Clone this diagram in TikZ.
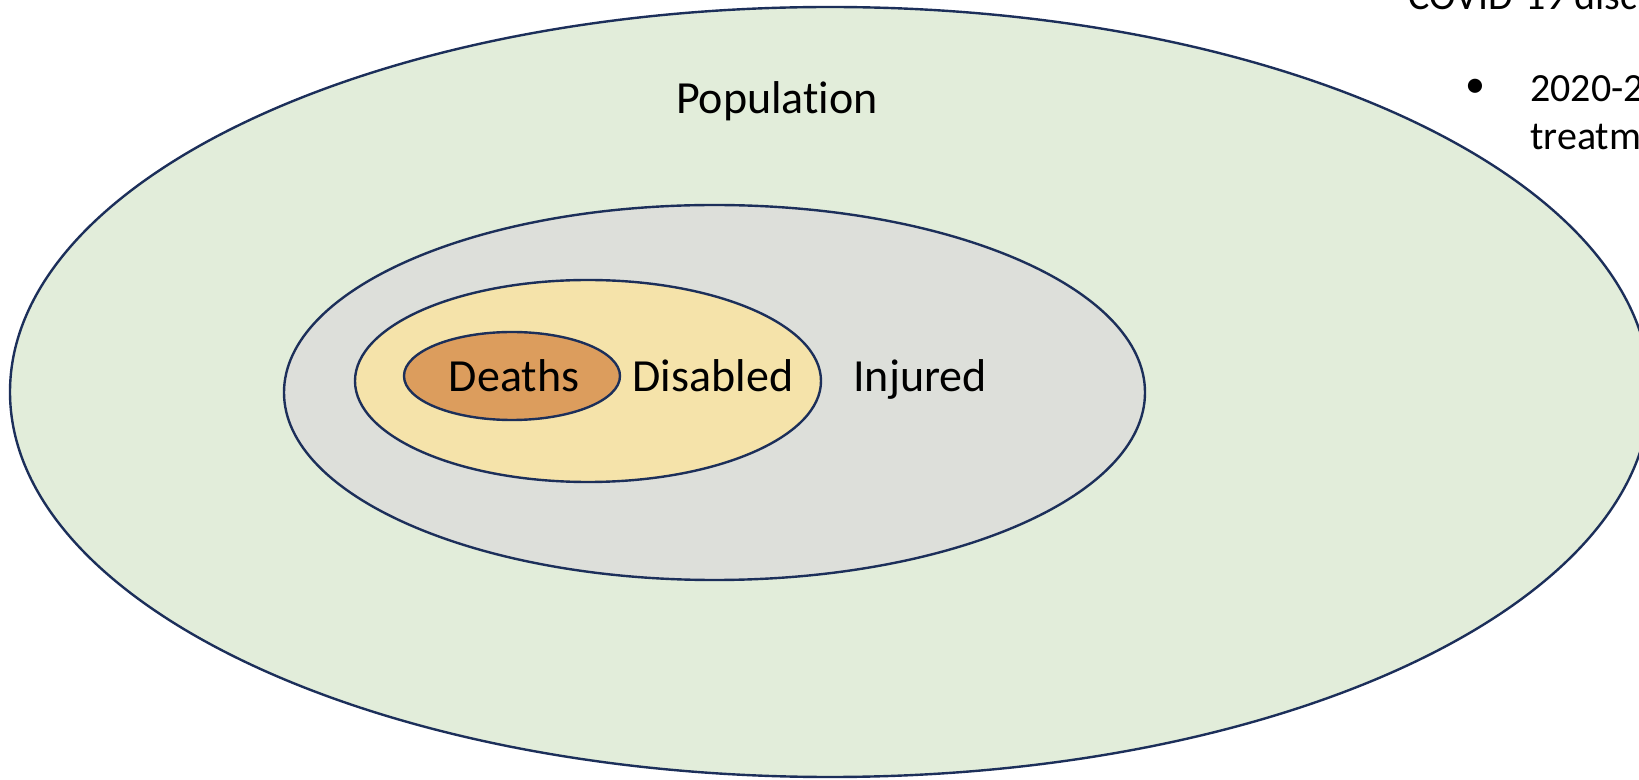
\documentclass[tikz,border=0pt]{standalone}
\usepackage{fontspec}
\setmainfont{Carlito}[Ligatures={NoCommon}]
\usetikzlibrary{shapes.geometric}
\definecolor{popfill}{HTML}{E2EDDA}
\definecolor{injfill}{HTML}{DDDFDA}
\definecolor{disfill}{HTML}{F5E3AA}
\definecolor{deafill}{HTML}{DC9D5D}
\definecolor{edge}{HTML}{1C2F5A}
\tikzset{
  ring/.style={ellipse, draw=edge, line width=1.2pt, inner sep=0pt},
  lab/.style={font=\fontsize{23}{27}\selectfont, anchor=base, inner sep=0pt},
  side/.style={font=\fontsize{20}{24}\selectfont, anchor=base west, inner sep=0pt}
}
\begin{document}
\begin{tikzpicture}[x=0.5pt, y=-0.5pt]
\useasboundingbox (0,0) rectangle (1639,780);
\clip (0,0) rectangle (1639,780);
\fill[white] (0,0) rectangle (1639,780);
\node[ring, fill=popfill, minimum width=820pt, minimum height=385pt] (pop) at (830,392) {};
\node[ring, fill=injfill, minimum width=430.5pt, minimum height=187.5pt] (inj) at (714.5,392.5) {};
\node[ring, fill=disfill, minimum width=233pt, minimum height=101pt] (dis) at (588,381) {};
\node[ring, fill=deafill, minimum width=108pt, minimum height=44pt] (dea) at (512,376) {};
\node[lab] (poplab) at (777,114) {Population};
\node[lab] (injlab) at (920,392) {Injured};
\node[lab] (dislab) at (713,392) {Disabled};
\node[lab] (dealab) at (514,392) {Deaths};
\node[side] (t1) at (1408,10) {COVID-19 disc};
\node[side, anchor=center] (bul) at (1475,88) {•};
\node[side] (t2) at (1530,102) {2020-2};
\node[side] (t3) at (1530,150) {treatm};
\end{tikzpicture}
\end{document}
